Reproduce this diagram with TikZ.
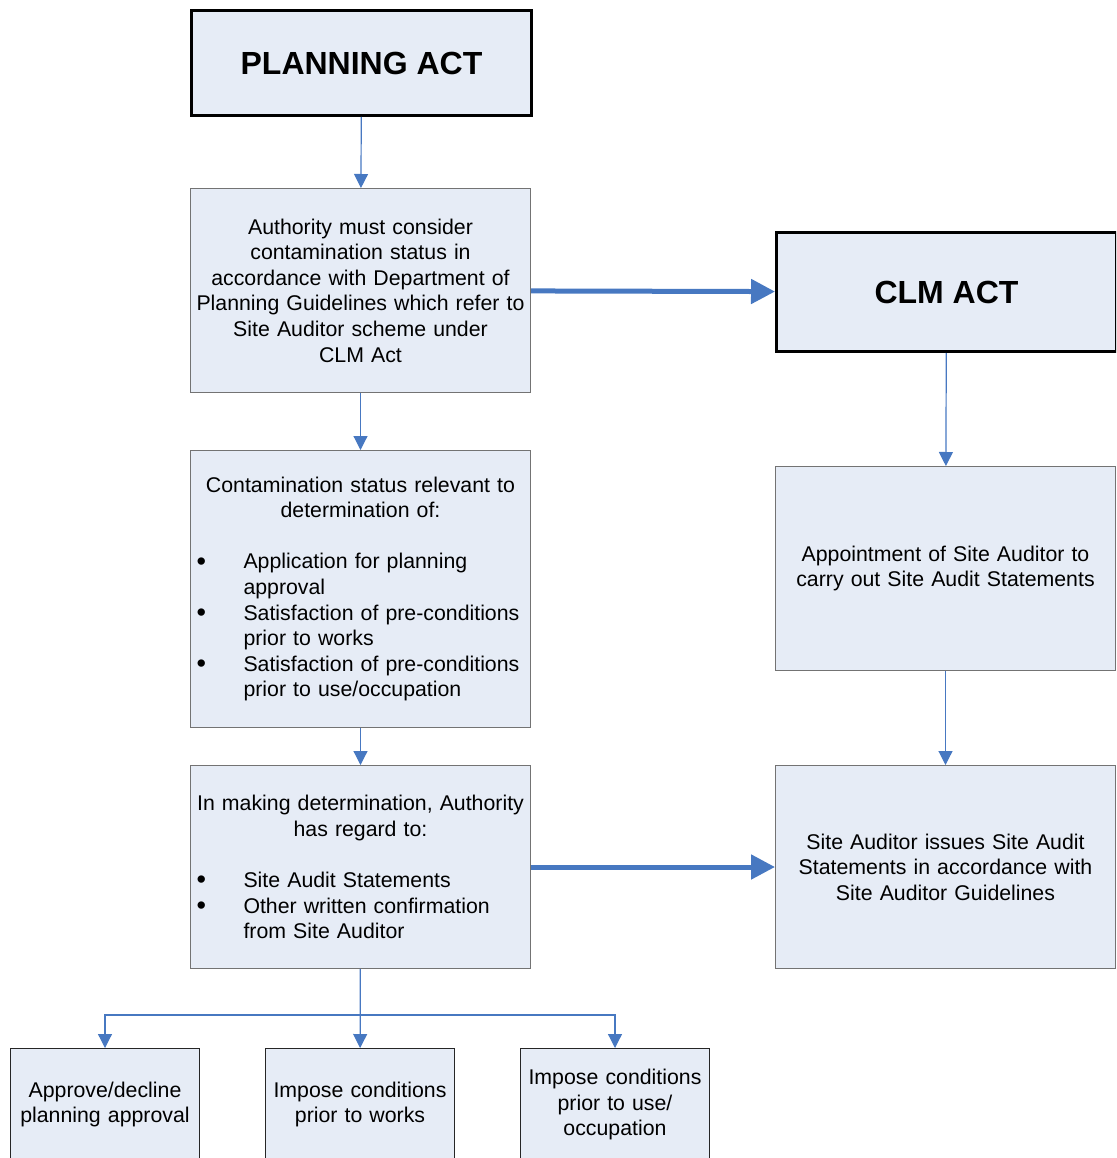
\documentclass[tikz,border=0pt]{standalone}
\usepackage{fontspec}
\setmainfont{Liberation Sans}
\usetikzlibrary{arrows.meta}

\definecolor{boxfill}{RGB}{230,236,246}
\definecolor{linkblue}{RGB}{71,120,193}
\hyphenpenalty=10000

% one line of a bulleted list inside a stage box
\newcommand\bline[2]{\makebox[332pt][l]{\makebox[49pt][l]{\hspace{2pt}#1}#2}}
\newcommand\bdot{\raisebox{-1.5pt}{\fontsize{27}{25}\selectfont\textbullet}}

\begin{document}
\begin{tikzpicture}[x=1pt,y=-1pt,
act/.style={
	% The shape:
	rectangle,anchor=north west,
	% The size:
	minimum width=340pt,
	% The border:
	line width=3pt,
	draw=black,
	% The filling:
	fill=boxfill,
	% Font
	font=\fontsize{32}{38}\selectfont\bfseries},
stage/.style={
	% The shape:
	rectangle,anchor=north west,inner xsep=4pt,inner ysep=4pt,
	text width=332pt,align=center,
	% The rest
	line width=1pt,draw=black!55,fill=boxfill,
	font=\fontsize{21.3}{25.6}\selectfont},
outcome/.style={stage,text width=181pt,draw=black!85},
link/.style={draw=linkblue,line width=1.2pt,-{Triangle[width=14pt,length=14pt]}},
biglink/.style={draw=linkblue,line width=5pt,-{Triangle[width=24pt,length=24pt]}}]

\useasboundingbox (0,0) rectangle (1116,1158);
\clip (0,0) rectangle (1116,1158);

% left column
\node (plan) [act,minimum height=105pt] at (190,9) {PLANNING ACT};
\node (auth) [stage,minimum height=204pt] at (190,188) {Authority must consider\\
		contamination status in\\
		accordance with Department of\\
		Planning Guidelines which refer to\\
		Site Auditor scheme under\\
		CLM Act};
\node (status) [stage,minimum height=277pt] at (190,450) {Contamination status relevant to\\
		determination of:\\[25.6pt]
		\bline{\bdot}{Application for planning}\\
		\bline{}{approval}\\
		\bline{\bdot}{Satisfaction of pre-conditions}\\
		\bline{}{prior to works}\\
		\bline{\bdot}{Satisfaction of pre-conditions}\\
		\bline{}{prior to use/occupation}};
\node (regard) [stage,minimum height=203pt] at (190,765) {In making determination, Authority\\
		has regard to:\\[25.6pt]
		\bline{\bdot}{Site Audit Statements}\\
		\bline{\bdot}{Other written confirmation}\\
		\bline{}{from Site Auditor}};

% right column
\node (clm) [act,minimum height=119pt] at (775,231) {CLM ACT};
\node (appoint) [stage,minimum height=204pt] at (775,466) {Appointment of Site Auditor to\\
		carry out Site Audit Statements};
\node (issue) [stage,minimum height=203pt] at (775,765) {Site Auditor issues Site Audit\\
		Statements in accordance with\\
		Site Auditor Guidelines};

% outcomes
\node (approve) [outcome,minimum height=112pt] at (10,1048) {Approve/decline\\ planning approval};
\node (works) [outcome,minimum height=112pt] at (265,1048) {Impose conditions\\ prior to works};
\node (use) [outcome,minimum height=112pt] at (520,1048) {Impose conditions\\ prior to use/\\ occupation};
\coordinate (split) at (360,1015);

\draw[link] (plan) -- (auth);
\draw[link] (auth) -- (status);
\draw[link] (status) -- (regard);
\draw[biglink] (auth) -- (clm);
\draw[biglink] (regard) -- (issue);
\draw[link] (clm) -- (appoint);
\draw[link] (appoint) -- (issue);

\draw[link] (regard) -- (works);
\draw[link] (split) -| (approve);
\draw[link] (split) -| (use);

\end{tikzpicture}
\end{document}
